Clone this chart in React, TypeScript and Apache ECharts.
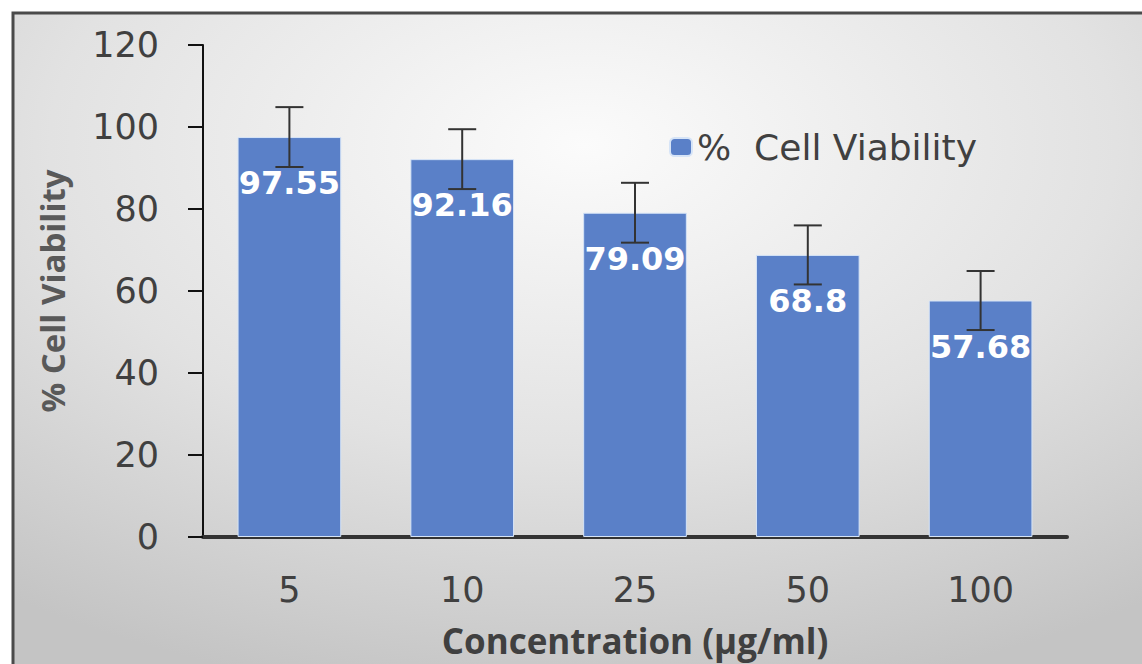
import React, { useEffect, useRef } from "react";
import * as echarts from "echarts";

const categories = ["5", "10", "25", "50", "100"];
const viability = [97.55, 92.16, 79.09, 68.8, 57.68];
const errors = [7.3, 7.3, 7.3, 7.2, 7.2];
const yTicks = { min: 0, max: 120, interval: 20 };

export default function App() {
  const ref = useRef<HTMLDivElement>(null);
  useEffect(() => {
    if (!ref.current) return;
    const chart = echarts.init(ref.current, null, { renderer: "svg" });
    const errData = categories.map((c, i) => [i, viability[i] - errors[i], viability[i] + errors[i]]);
    chart.setOption({
      animation: false,
      backgroundColor: "#ffffff",
      graphic: [
        {
          type: "rect",
          z: -1,
          silent: true,
          shape: { x: 13, y: 13, width: 1140, height: 660 },
          style: {
            fill: new echarts.graphic.RadialGradient(0.5, 0.2, 0.85, [
              { offset: 0, color: "#fbfbfb" },
              { offset: 0.55, color: "#e2e2e2" },
              { offset: 1, color: "#c4c4c4" },
            ]),
            stroke: "#4a4a4a",
            lineWidth: 3,
          },
        },
      ],
      grid: { left: 203, right: 75, top: 45, bottom: 126, containLabel: false },
      legend: {
        data: ["%  Cell Viability"],
        left: 664,
        top: 124,
        itemWidth: 22,
        itemHeight: 18,
        itemGap: 8,
        textStyle: { fontFamily: "DejaVu Sans", fontSize: 36, color: "#404040" },
      },
      xAxis: {
        type: "category",
        data: categories,
        name: "Concentration (µg/ml)",
        nameLocation: "middle",
        nameGap: 84,
        nameTextStyle: { fontFamily: "Open Sans", fontWeight: "bold", fontSize: 35, lineHeight: 38, color: "#404040" },
        axisLine: { lineStyle: { color: "#333333", width: 4 } },
        axisTick: { show: false },
        axisLabel: { fontFamily: "DejaVu Sans", fontSize: 35, color: "#404040", margin: 35 },
      },
      yAxis: {
        type: "value",
        min: yTicks.min,
        max: yTicks.max,
        interval: yTicks.interval,
        name: "% Cell Viability",
        nameLocation: "middle",
        nameGap: 134,
        nameTextStyle: { fontFamily: "Open Sans", fontWeight: "bold", fontSize: 33, color: "#595959" },
        axisLine: { show: true, lineStyle: { color: "#111111", width: 2 } },
        axisTick: { show: true, length: 15, lineStyle: { color: "#111111", width: 2 } },
        splitLine: { show: false },
        axisLabel: { fontFamily: "DejaVu Sans", fontSize: 35, color: "#404040", margin: 44 },
      },
      series: [
        {
          name: "%  Cell Viability",
          type: "bar",
          data: viability,
          barCategoryGap: "40%",
          itemStyle: { color: "#5a80c8", borderColor: "#d6e4f7", borderWidth: 1 },
          label: {
            show: true,
            position: "insideTop",
            distance: 30,
            color: "#ffffff",
            fontFamily: "DejaVu Sans",
            fontWeight: "bold",
            fontSize: 32,
            formatter: (p: any) => String(p.value),
          },
        },
        {
          name: "error",
          type: "custom",
          z: 5,
          data: errData,
          renderItem: (params: any, api: any) => {
            const x = api.value(0);
            const lo = api.coord([x, api.value(1)]);
            const hi = api.coord([x, api.value(2)]);
            const half = 14;
            const st = { stroke: "#333333", lineWidth: 2 };
            return {
              type: "group",
              children: [
                { type: "line", shape: { x1: hi[0], y1: hi[1], x2: lo[0], y2: lo[1] }, style: st },
                { type: "line", shape: { x1: hi[0] - half, y1: hi[1], x2: hi[0] + half, y2: hi[1] }, style: st },
                { type: "line", shape: { x1: lo[0] - half, y1: lo[1], x2: lo[0] + half, y2: lo[1] }, style: st },
              ],
            };
          },
        },
      ],
    });
    return () => chart.dispose();
  }, []);
  return (
    <div
      ref={ref}
      style={{ position: "fixed", left: 0, top: 0, width: 1142, height: 664 }}
    />
  );
}
